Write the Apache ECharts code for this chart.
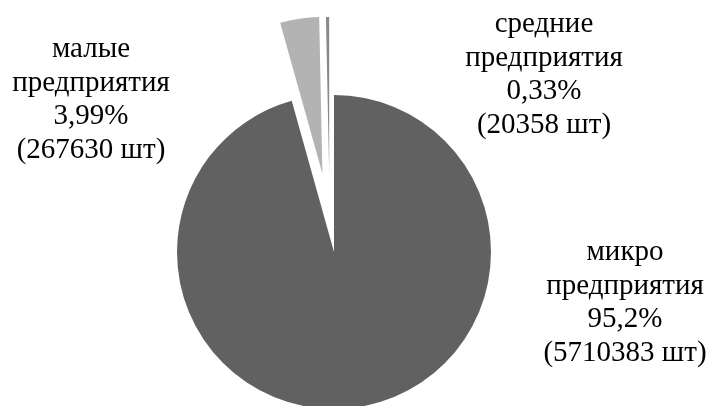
<!DOCTYPE html>
<html>
<head>
<meta charset="utf-8">
<script src="https://cdn.jsdelivr.net/npm/echarts@6/dist/echarts.min.js"></script>
<style>
html,body{margin:0;padding:0;background:#fff;}
#c{width:710px;height:406px;}
</style>
</head>
<body>
<div id="c"></div>
<script>
// Data
var categories = ['микро\nпредприятия', 'малые\nпредприятия', 'средние\nпредприятия'];
var percents = [95.2, 3.99, 0.33];
var counts = [5710383, 267630, 20358];
var colors = ['#616161', '#b3b3b3', '#8a8a8a'];

// Layout (label anchor points, px)
var labelPos = [[625, 303], [91, 100], [544, 75]];

function fmtLabel(i) {
  return categories[i] + '\n' + String(percents[i]).replace('.', ',') + '%\n(' + counts[i] + ' шт)';
}

var labelStyle = {
  show: true,
  fontFamily: 'Liberation Serif',
  fontSize: 29,
  lineHeight: 33.5,
  color: '#000',
  align: 'center'
};

function layoutFn(params) {
  var p = labelPos[params.dataIndex];
  return { x: p[0], y: p[1], align: 'center', verticalAlign: 'middle' };
}

var clear = 'rgba(0,0,0,0)';

function sliceData(visibleFn, selectedFn) {
  return categories.map(function (c, i) {
    var col = visibleFn(i) ? colors[i] : clear;
    return {
      name: c,
      value: percents[i],
      selected: selectedFn(i),
      itemStyle: { color: col },
      select: { itemStyle: { color: col } },
      label: { show: false }
    };
  });
}

// Main series: micro + exploded small
var dataA = sliceData(function (i) { return i < 2; }, function (i) { return i === 1; });
// Second series: exploded medium
var dataB = sliceData(function (i) { return i === 2; }, function (i) { return i === 2; });
// Label-only series
var dataC = categories.map(function (c, i) {
  return {
    name: c,
    value: percents[i],
    itemStyle: { color: clear },
    label: Object.assign({}, labelStyle, { formatter: fmtLabel(i) })
  };
});

var base = {
  type: 'pie',
  radius: 157,
  startAngle: 90,
  clockwise: true,
  avoidLabelOverlap: false,
  silent: true,
  labelLine: { show: false }
};

var chart = echarts.init(document.getElementById('c'), null, { renderer: 'canvas' });
chart.setOption({
  backgroundColor: '#fff',
  animation: false,
  series: [
    Object.assign({}, base, {
      center: [334, 252],
      selectedMode: 'multiple',
      selectedOffset: 79,
      data: dataA
    }),
    Object.assign({}, base, {
      center: [330, 252],
      selectedMode: 'multiple',
      selectedOffset: 78,
      data: dataB
    }),
    Object.assign({}, base, {
      center: [334, 252],
      labelLayout: layoutFn,
      data: dataC
    })
  ]
});
</script>
</body>
</html>
